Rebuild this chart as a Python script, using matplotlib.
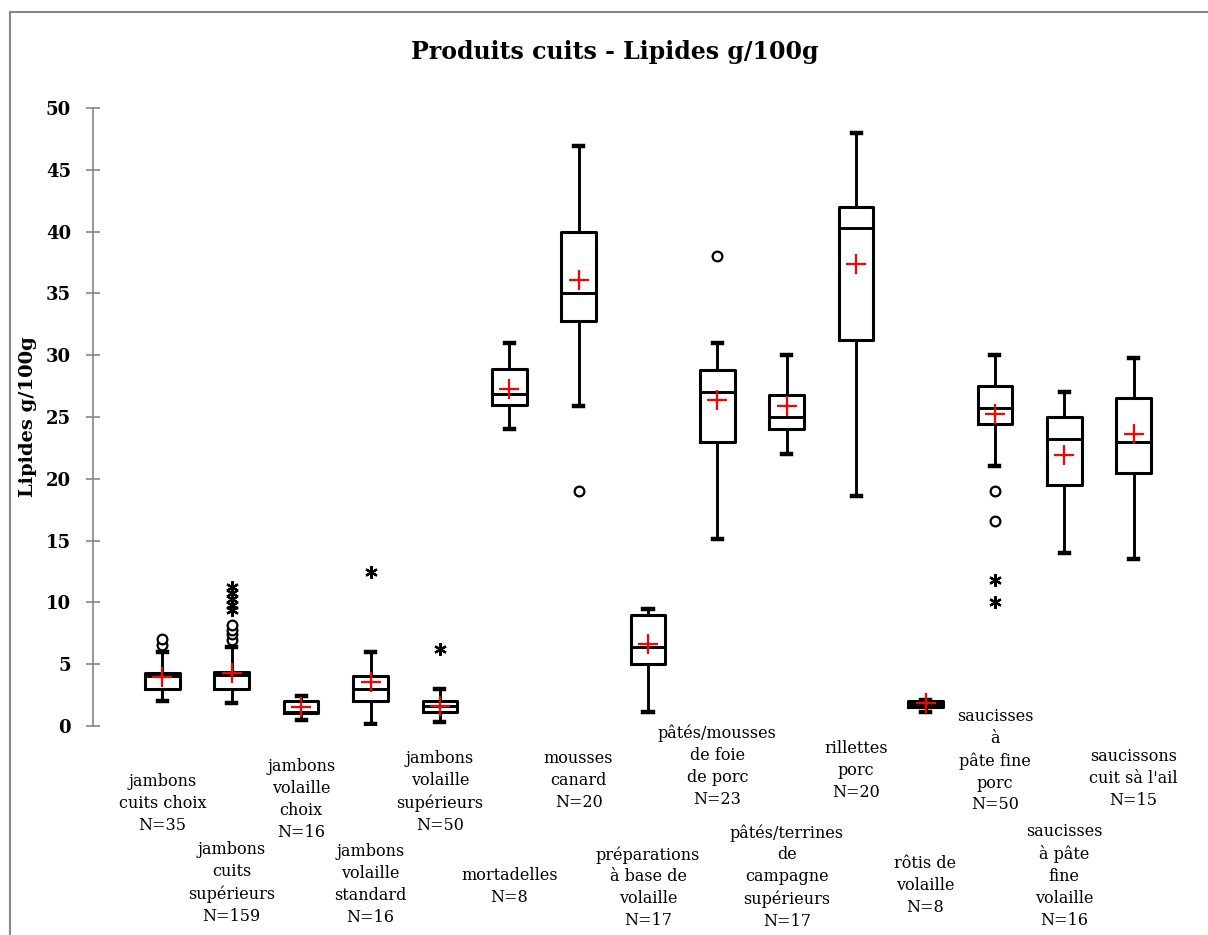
import numpy as np
import matplotlib
matplotlib.use("Agg")
import matplotlib.pyplot as plt
from matplotlib.patches import Rectangle
from matplotlib.transforms import blended_transform_factory

plt.rcParams['font.family'] = ['DejaVu Serif']

# categories (labels wrapped as in the original) and counts
categories = ["jambons\ncuits choix", "jambons\ncuits\nsupérieurs", "jambons\nvolaille\nchoix",
              "jambons\nvolaille\nstandard", "jambons\nvolaille\nsupérieurs", "mortadelles",
              "mousses\ncanard", "préparations\nà base de\nvolaille", "pâtés/mousses\nde foie\nde porc",
              "pâtés/terrines\nde\ncampagne\nsupérieurs", "rillettes\nporc", "rôtis de\nvolaille",
              "saucisses\nà\npâte fine\nporc", "saucisses\nà pâte\nfine\nvolaille", "saucissons\ncuit sà l'ail"]
counts = [35, 159, 16, 16, 50, 8, 20, 17, 23, 17, 20, 8, 50, 16, 15]

# box statistics (g/100g)
whislo = [2.0, 1.85, 0.5, 0.13, 0.3, 24.0, 25.9, 1.1, 15.1, 22.0, 18.6, 1.1, 21.0, 14.0, 13.5]
q1 =     [3.0, 3.0, 1.05, 2.0, 1.1, 26.0, 32.8, 5.0, 23.0, 24.0, 31.2, 1.55, 24.45, 19.5, 20.5]
med =    [4.05, 4.1, 1.15, 3.0, 1.65, 26.9, 35.0, 6.4, 27.0, 25.0, 40.3, 1.8, 25.75, 23.2, 23.0]
q3 =     [4.25, 4.4, 2.0, 4.05, 2.0, 28.85, 40.0, 9.0, 28.8, 26.8, 42.0, 2.05, 27.5, 25.0, 26.5]
whishi = [5.95, 6.4, 2.45, 6.0, 3.0, 31.0, 46.9, 9.5, 31.0, 30.0, 48.0, 2.1, 30.0, 27.0, 29.8]
means =  [4.0, 4.3, 1.5, 3.6, 1.65, 27.3, 36.1, 6.6, 26.35, 25.9, 37.4, 1.85, 25.25, 21.9, 23.6]

# outliers: mild (circles) and extreme (asterisks)
mild = [[6.55, 7.0], [6.95, 7.45, 7.8, 8.15], [], [], [], [], [19.0], [], [38.0], [], [], [],
        [16.55, 19.0], [], []]
extreme = [[], [9.35, 9.8, 10.25, 10.75, 11.25], [], [12.5], [6.2], [], [], [], [], [], [], [],
           [10.05, 11.8], [], []]

# vertical position (pixels from top) of each label's first line
label_top = [783, 851, 768, 853, 760, 877, 760, 856, 735, 834, 750, 865, 718, 833, 758]

W, H = 1208, 935
fig = plt.figure(figsize=(W / 100, H / 100), dpi=100)
ax = fig.add_axes([93 / W, 1 - 726 / H, 1110 / W, (726 - 108) / H])

stats = []
for i in range(len(categories)):
    stats.append(dict(med=med[i], q1=q1[i], q3=q3[i], whislo=whislo[i], whishi=whishi[i],
                      mean=means[i], fliers=[]))

pos = np.arange(1, len(categories) + 1)
ax.bxp(stats, positions=pos, widths=0.5, showmeans=True, showfliers=False,
       boxprops=dict(color='black', linewidth=2.2),
       whiskerprops=dict(color='black', linewidth=2.1),
       capprops=dict(color='black', linewidth=3.2),
       capwidths=0.13,
       medianprops=dict(color='black', linewidth=2.1),
       meanprops=dict(marker='+', markeredgecolor='red', markersize=14, markeredgewidth=1.6))

for i in range(len(categories)):
    if mild[i]:
        ax.plot([pos[i]] * len(mild[i]), mild[i], 'o', mfc='white', mec='black', ms=7, mew=1.6,
                linestyle='none')
    if extreme[i]:
        ax.plot([pos[i]] * len(extreme[i]), extreme[i], marker=(6, 2, 0), color='black', ms=9,
                mew=1.6, linestyle='none')

ax.set_xlim(0, 16)
ax.set_ylim(0, 50)
ax.set_yticks(np.arange(0, 51, 5))
ax.set_xticks([])
for s in ['top', 'right', 'bottom']:
    ax.spines[s].set_visible(False)
ax.spines['left'].set_color('#868686')
ax.spines['left'].set_linewidth(1.2)
ax.tick_params(axis='y', direction='inout', length=9.5, width=1.2, color='#868686',
               labelsize=13, pad=11)
for t in ax.get_yticklabels():
    t.set_fontweight('bold')

ax.set_ylabel("Lipides g/100g", fontsize=14, fontweight='bold')
ax.yaxis.set_label_coords(37 / W, 0.5, transform=fig.transFigure)
ax.yaxis.label.set_position((37 / W, 1 - 417 / H))

trans = blended_transform_factory(ax.transData, fig.transFigure)
for i, (lab, n) in enumerate(zip(categories, counts)):
    ax.text(pos[i], 1 - (label_top[i] - 10) / H, f"{lab}\nN={n}", transform=trans,
            ha='center', va='top', fontsize=11.5, linespacing=1.38, multialignment='center')

fig.text(615 / W, 1 - 52 / H, "Produits cuits - Lipides g/100g", ha='center', va='center',
         fontsize=17, fontweight='bold')

fig.add_artist(Rectangle((10 / W, -0.1), 1.2, 1.1 - 12 / H, transform=fig.transFigure,
                         fill=False, edgecolor='#888888', linewidth=1.5))

fig.savefig("out.png", dpi=100)
